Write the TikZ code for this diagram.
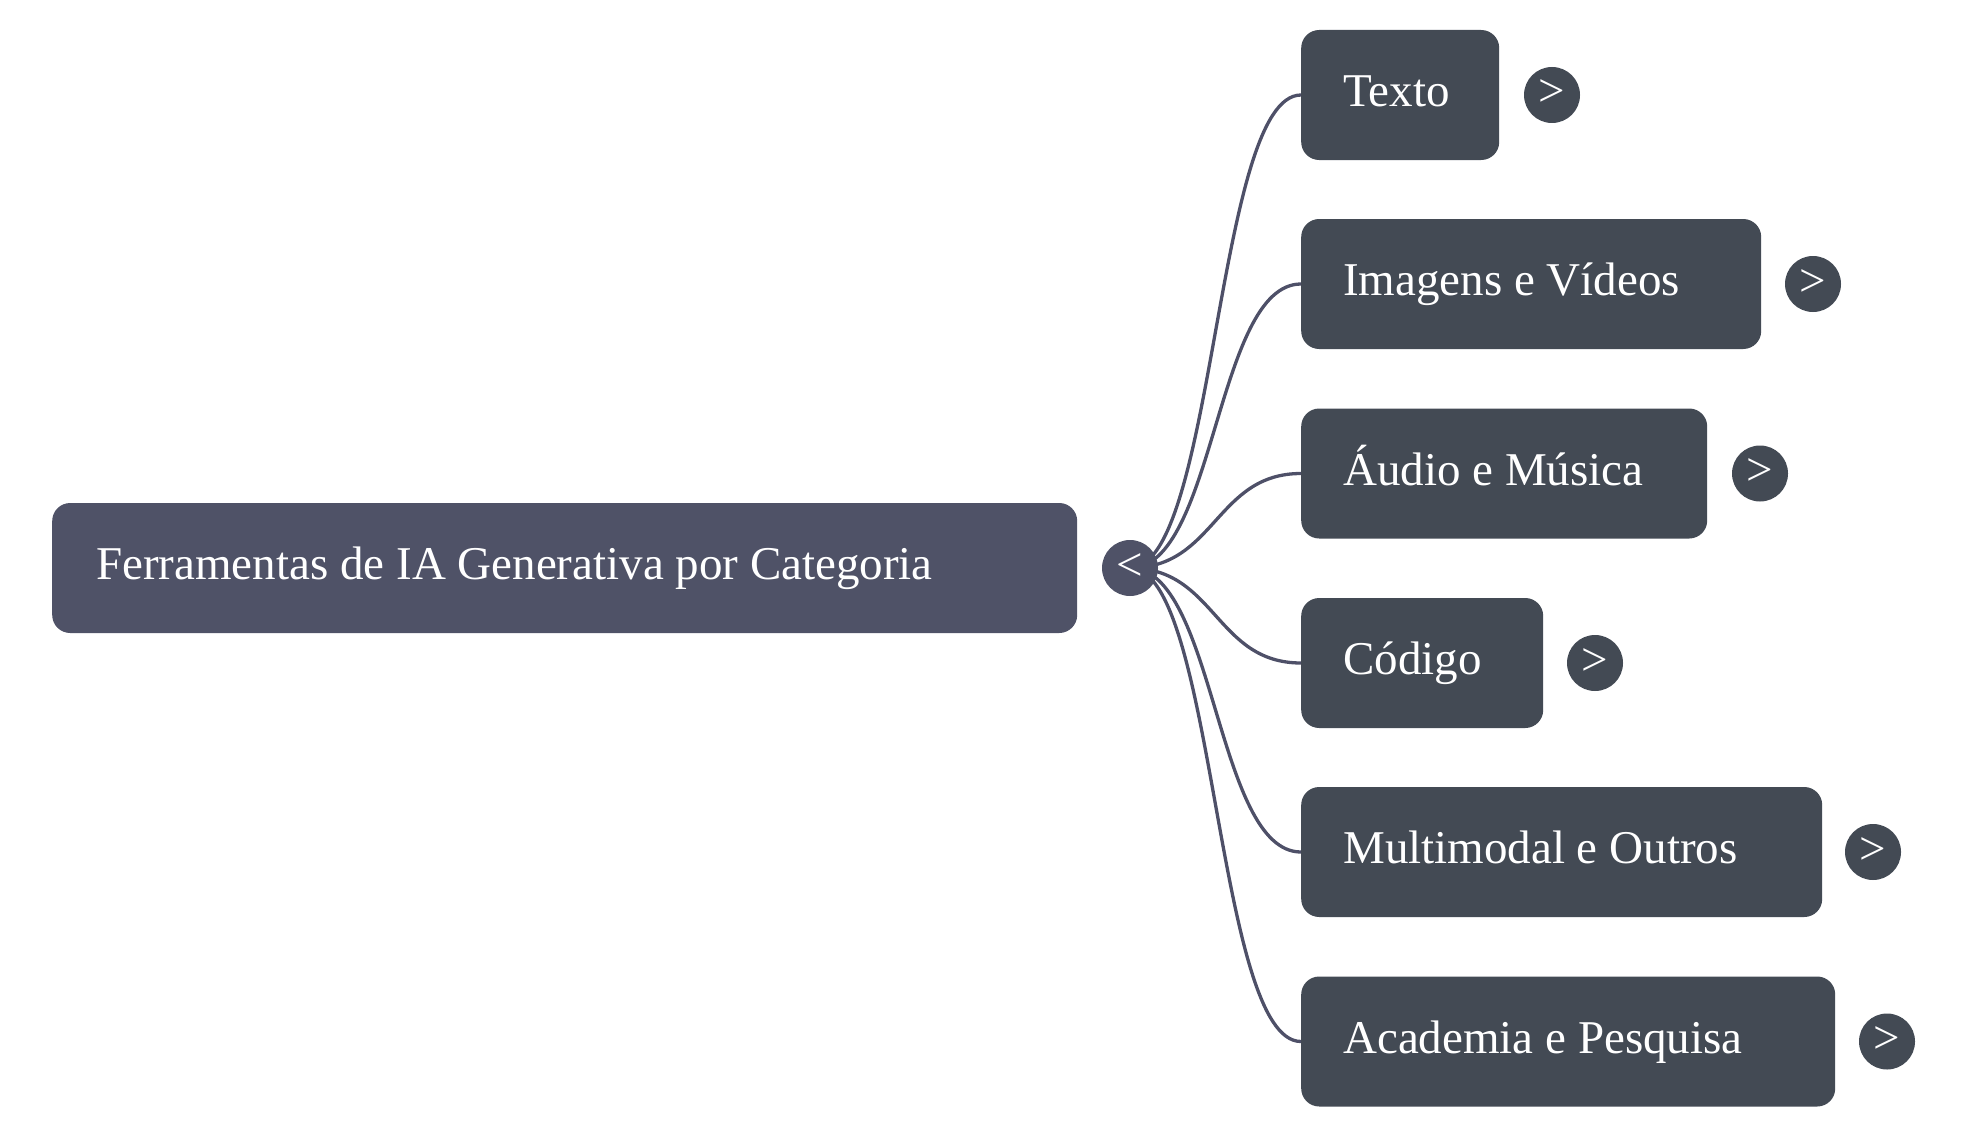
\documentclass[tikz,border=0pt]{standalone}
\usepackage{fontspec}
\setmainfont{Liberation Serif}
\pgfdeclarelayer{background}
\pgfsetlayers{background,main}
\definecolor{rootfill}{HTML}{4F5267}
\definecolor{childfill}{HTML}{434A54}
\definecolor{linkcol}{HTML}{4E5068}
\newcommand{\mmbox}[2]{\makebox[#1][l]{#2}}
\tikzset{
  basebox/.style={anchor=west, rounded corners=18pt, text=white,
    minimum height=130pt, inner ysep=0pt, text height=33pt, text depth=10pt,
    font=\fontsize{47}{56}\selectfont},
  rootbox/.style={basebox, fill=rootfill, inner xsep=44pt},
  childbox/.style={basebox, fill=childfill, inner xsep=42pt},
  toggle/.style={circle, minimum size=56pt, inner sep=0pt, text=white,
    font=\fontsize{47}{56}\selectfont, text height=24pt, text depth=0pt},
  link/.style={draw=linkcol, line width=3.3pt}
}
\begin{document}
\begin{tikzpicture}[x=1pt,y=-1pt]
\useasboundingbox (0,0) rectangle (1967,1137);
\node[rootbox] (root) at (52,568) {\mmbox{937pt}{Ferramentas de IA Generativa por Categoria}};
\node[toggle, fill=rootfill] (rc) at (1130,568) {<};
\node[childbox] (c1) at (1301,95) {\mmbox{114pt}{Texto}};
\node[childbox] (c2) at (1301,284) {\mmbox{376pt}{Imagens e Vídeos}};
\node[childbox] (c3) at (1301,473.5) {\mmbox{322pt}{Áudio e Música}};
\node[childbox] (c4) at (1301,663) {\mmbox{158pt}{Código}};
\node[childbox] (c5) at (1301,852) {\mmbox{437pt}{Multimodal e Outros}};
\node[childbox] (c6) at (1301,1041.5) {\mmbox{450pt}{Academia e Pesquisa}};
\node[toggle, fill=childfill] (t1) at (1552,95) {>};
\node[toggle, fill=childfill] (t2) at (1813,284) {>};
\node[toggle, fill=childfill] (t3) at (1760,473.5) {>};
\node[toggle, fill=childfill] (t4) at (1595,663) {>};
\node[toggle, fill=childfill] (t5) at (1873,852) {>};
\node[toggle, fill=childfill] (t6) at (1887,1041.5) {>};
\begin{pgfonlayer}{background}
\foreach \c in {c1,c2,c3,c4,c5,c6}{
  \draw[link] (rc.center) .. controls +(85.5,0) and +(-85.5,0) .. (\c.west);
}
\end{pgfonlayer}
\end{tikzpicture}
\end{document}
